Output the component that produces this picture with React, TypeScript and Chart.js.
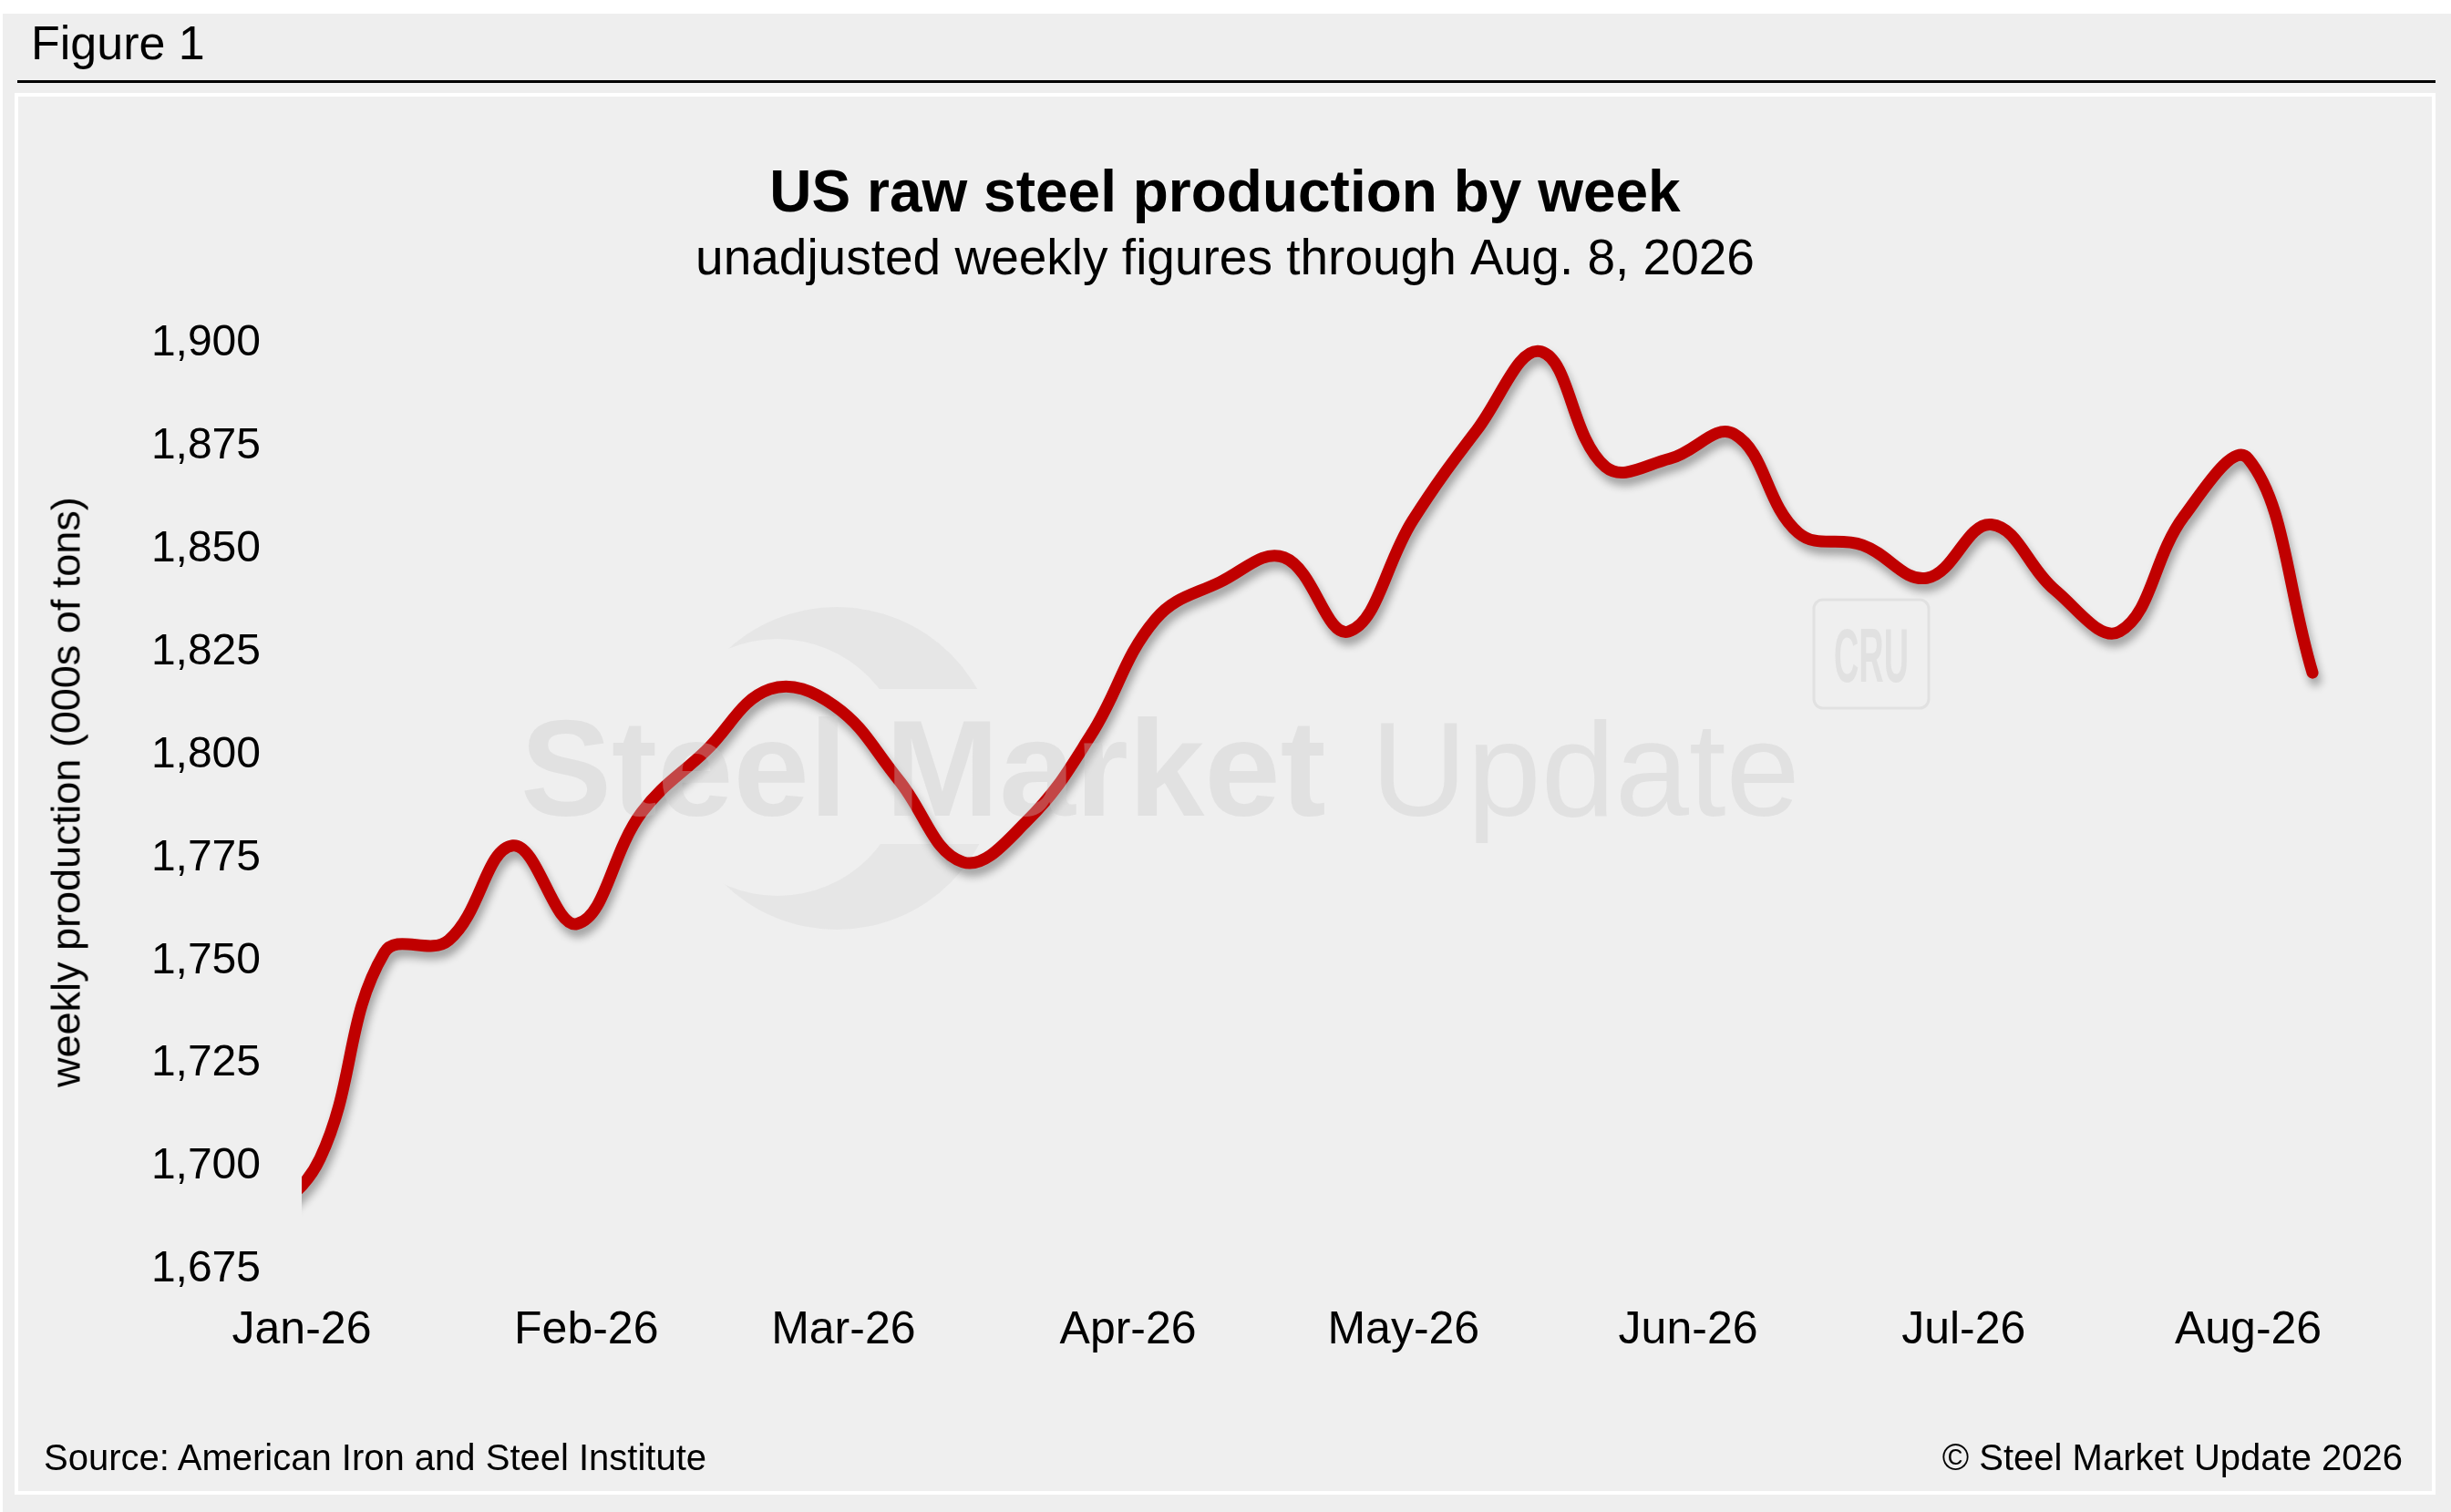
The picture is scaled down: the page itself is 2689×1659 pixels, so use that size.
import { useEffect, useRef } from "react";
import { Chart, registerables } from "chart.js";

Chart.register(...registerables);

const FONT = '"Liberation Sans", Arial, Helvetica, sans-serif';

// weeks ending (Saturday), AISI weekly raw steel output, 000s of tons
const weekEnding = [
  "2025-12-27", "2026-01-03", "2026-01-10", "2026-01-17", "2026-01-24", "2026-01-31",
  "2026-02-07", "2026-02-14", "2026-02-21", "2026-02-28",
  "2026-03-07", "2026-03-14", "2026-03-21", "2026-03-28",
  "2026-04-04", "2026-04-11", "2026-04-18", "2026-04-25",
  "2026-05-02", "2026-05-09", "2026-05-16", "2026-05-23", "2026-05-30",
  "2026-06-06", "2026-06-13", "2026-06-20", "2026-06-27",
  "2026-07-04", "2026-07-11", "2026-07-18", "2026-07-25",
  "2026-08-01", "2026-08-08",
];
const production = [
  1685, 1702, 1752, 1755, 1778, 1759,
  1786, 1801, 1816, 1812,
  1794, 1774, 1784, 1805,
  1833, 1842, 1848, 1830,
  1857, 1879, 1898, 1870, 1872,
  1878, 1854, 1851, 1843,
  1856, 1840, 1830, 1858,
  1872, 1820,
];

const monthStarts = [
  "2026-01-01", "2026-02-01", "2026-03-01", "2026-04-01",
  "2026-05-01", "2026-06-01", "2026-07-01", "2026-08-01",
];
const monthLabels = ["Jan-26", "Feb-26", "Mar-26", "Apr-26", "May-26", "Jun-26", "Jul-26", "Aug-26"];

const yMin = 1675;
const yMax = 1900;
const yStep = 25;

const dayOfYear = (iso: string) =>
  (Date.parse(iso + "T00:00:00Z") - Date.UTC(2026, 0, 1)) / 86400000;

const MARK = "rgba(200,200,200,0.35)";

function drawWatermark(ctx: CanvasRenderingContext2D) {
  ctx.save();
  ctx.fillStyle = MARK;
  ctx.textBaseline = "alphabetic";
  ctx.textAlign = "left";
  ctx.font = `bold 150px ${FONT}`;
  ctx.fillText("Steel Market", 551, 789);
  ctx.font = `146px ${FONT}`;
  ctx.fillText("Update", 1484, 789);

  // CRU badge
  ctx.strokeStyle = MARK;
  ctx.lineWidth = 3;
  ctx.beginPath();
  ctx.roundRect(1970, 552, 126, 119, 10);
  ctx.stroke();
  ctx.translate(2033, 642);
  ctx.scale(0.45, 1);
  ctx.textAlign = "center";
  ctx.font = `bold 84px ${FONT}`;
  ctx.fillText("CRU", 0, 0);
  ctx.restore();
}

function drawCrescent(ctx: CanvasRenderingContext2D) {
  ctx.save();
  ctx.beginPath();
  ctx.arc(898, 737, 177, 0, Math.PI * 2);
  ctx.clip();
  // keep the band behind the lettering clear
  ctx.beginPath();
  ctx.rect(600, 400, 600, 650);
  ctx.rect(600, 650, 600, 170);
  ctx.clip("evenodd");
  ctx.beginPath();
  ctx.rect(600, 400, 600, 650);
  ctx.arc(833, 736, 141, 0, Math.PI * 2);
  ctx.fillStyle = "rgba(200,200,200,0.22)";
  ctx.fill("evenodd");
  ctx.restore();
}

const shadowPlugin = {
  id: "shadowAndMark",
  beforeDatasetsDraw(chart: Chart) {
    const ctx = chart.ctx;
    drawCrescent(ctx);
    ctx.save();
    ctx.shadowColor = "rgba(0,0,0,0.33)";
    ctx.shadowBlur = 10;
    ctx.shadowOffsetX = 3;
    ctx.shadowOffsetY = 8;
  },
  afterDatasetsDraw(chart: Chart) {
    chart.ctx.restore();
    drawWatermark(chart.ctx);
  },
};

function SteelChart() {
  const canvasRef = useRef<HTMLCanvasElement>(null);

  useEffect(() => {
    Chart.defaults.font.family = FONT;
    Chart.defaults.color = "#000";

    const chart = new Chart(canvasRef.current!, {
      type: "line",
      data: {
        datasets: [
          {
            label: "Weekly production",
            data: weekEnding.map((d, i) => ({ x: dayOfYear(d), y: production[i] })),
            borderColor: "#c00000",
            borderWidth: 13,
            borderCapStyle: "round",
            borderJoinStyle: "round",
            pointRadius: 0,
            tension: 0.4,
            fill: false,
            clip: { left: 0, top: false, right: false, bottom: false },
          },
        ],
      },
      options: {
        responsive: false,
        animation: false,
        devicePixelRatio: 1,
        layout: { padding: 0 },
        plugins: {
          legend: { display: false },
          tooltip: { enabled: false },
          title: {
            display: true,
            text: "US raw steel production by week",
            font: { size: 64, weight: "bold" },
            color: "#000",
            padding: { top: 70, bottom: 0 },
          },
          subtitle: {
            display: true,
            text: "unadjusted weekly figures through Aug. 8, 2026",
            font: { size: 55 },
            color: "#000",
            padding: { top: 0, bottom: 58 },
          },
        },
        scales: {
          x: {
            type: "linear",
            min: 0,
            max: 232,
            grid: { display: false, drawTicks: false },
            border: { display: false },
            afterBuildTicks: (scale) => {
              scale.ticks = monthStarts.map((d) => ({ value: dayOfYear(d) }));
            },
            afterFit: (scale) => {
              scale.height = 243;
            },
            ticks: {
              font: { size: 50 },
              padding: 37,
              maxRotation: 0,
              autoSkip: false,
              callback: (_v, i) => monthLabels[i],
            },
          },
          y: {
            min: yMin,
            max: yMax,
            grid: { display: false, drawTicks: false },
            border: { display: false },
            afterFit: (scale) => {
              scale.width = 311;
            },
            ticks: {
              stepSize: yStep,
              font: { size: 48 },
              padding: 45,
              callback: (v) => Number(v).toLocaleString("en-US"),
            },
          },
        },
      },
      plugins: [shadowPlugin],
    });

    return () => chart.destroy();
  }, []);

  return (
    <canvas
      ref={canvasRef}
      width={2648}
      height={1530}
      style={{ position: "absolute", left: 20, top: 106, width: 2648, height: 1530 }}
    />
  );
}

export default function App() {
  return (
    <div
      style={{
        position: "fixed",
        left: 0,
        top: 0,
        width: 2689,
        height: 1659,
        background: "#fff",
        overflow: "hidden",
        fontFamily: FONT,
        color: "#000",
      }}
    >
      <div style={{ position: "absolute", left: 3, top: 15, right: 0, bottom: 0, background: "#eeeeee" }} />
      <div style={{ position: "absolute", left: 34, top: 21, fontSize: 52, lineHeight: "52px" }}>Figure 1</div>
      <div style={{ position: "absolute", left: 19, top: 88, width: 2653, height: 3, background: "#000" }} />
      <div
        style={{
          position: "absolute",
          left: 16,
          top: 102,
          width: 2656,
          height: 1538,
          boxSizing: "border-box",
          border: "4px solid #fff",
          background: "#efefef",
        }}
      />
      <SteelChart />
      <div
        style={{
          position: "absolute",
          left: 72,
          top: 869,
          fontSize: 45,
          lineHeight: "45px",
          whiteSpace: "nowrap",
          transform: "translate(-50%, -50%) rotate(-90deg)",
        }}
      >
        weekly production (000s of tons)
      </div>
      <div style={{ position: "absolute", left: 48, top: 1579, fontSize: 40, lineHeight: "40px" }}>
        Source: American Iron and Steel Institute
      </div>
      <div style={{ position: "absolute", right: 53, top: 1579, fontSize: 40, lineHeight: "40px" }}>
        © Steel Market Update 2026
      </div>
    </div>
  );
}
